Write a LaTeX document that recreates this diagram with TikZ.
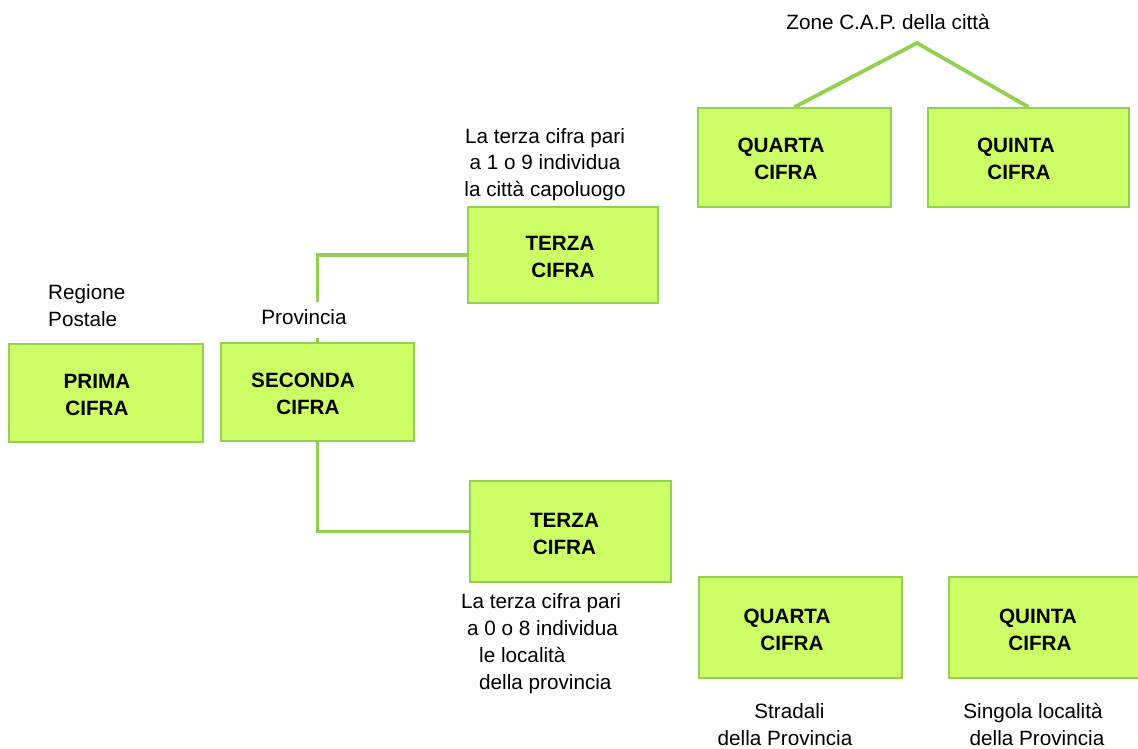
\documentclass[tikz,border=0pt]{standalone}
\usepackage{fontspec}
\setmainfont{Liberation Sans}
\definecolor{boxfill}{HTML}{CCFF66}
\definecolor{boxline}{HTML}{92D050}
\pgfdeclarelayer{bg}
\pgfsetlayers{bg,main}
\newcommand{\clines}[1]{\begin{tabular}[t]{@{}c@{}}#1\end{tabular}}
\newcommand{\llines}[1]{\begin{tabular}[t]{@{}l@{}}#1\end{tabular}}
\tikzset{
  cifrabox/.style={draw=boxline, line width=1.8pt, fill=boxfill, inner sep=0pt},
  conn/.style={draw=boxline, line width=3.8pt, line join=miter},
  lbl/.style={inner sep=0pt, font=\fontsize{20.7}{27}\selectfont},
  blbl/.style={inner sep=0pt, font=\fontsize{20.7}{27}\selectfont\bfseries},
}
\begin{document}
\begin{tikzpicture}[x=1pt, y=-1pt]
\begin{pgfonlayer}{bg}
\fill[white] (0,0) rectangle (1138,749);
\end{pgfonlayer}
\useasboundingbox (0,0) rectangle (1138,749);

% boxes
\node[cifrabox, minimum width=194pt, minimum height=98pt] (prima)   at (106,393) {};
\node[cifrabox, minimum width=193pt, minimum height=98pt] (seconda) at (317.5,392) {};
\node[cifrabox, minimum width=190pt, minimum height=96pt] (terzaA)  at (563,255) {};
\node[cifrabox, minimum width=201pt, minimum height=101pt] (terzaB) at (570.5,531.5) {};
\node[cifrabox, minimum width=193pt, minimum height=99pt] (quartaA) at (794.5,157.5) {};
\node[cifrabox, minimum width=201pt, minimum height=99pt] (quintaA) at (1028.5,157.5) {};
\node[cifrabox, minimum width=203pt, minimum height=101pt] (quartaB) at (800.5,627.5) {};
\node[cifrabox, minimum width=191pt, minimum height=101pt] (quintaB) at (1044.5,627.5) {};

% box texts
\node[blbl, anchor=base] (primaT)   at (97,388)   {\clines{PRIMA\\CIFRA}};
\node[blbl, anchor=base] (secondaT) at (303,387)  {\clines{SECONDA\\\hspace{10pt}CIFRA}};
\node[blbl, anchor=base] (terzaAT)  at (560,250)  {\clines{TERZA\\\hspace{6pt}CIFRA}};
\node[blbl, anchor=base] (terzaBT)  at (564.5,527){\clines{TERZA\\CIFRA}};
\node[blbl, anchor=base] (quartaAT) at (781,153)  {\clines{QUARTA\\\hspace{10pt}CIFRA}};
\node[blbl, anchor=base] (quintaAT) at (1016,153) {\clines{QUINTA\\\hspace{6pt}CIFRA}};
\node[blbl, anchor=base] (quartaBT) at (787,623)  {\clines{QUARTA\\\hspace{10pt}CIFRA}};
\node[blbl, anchor=base] (quintaBT) at (1038,623) {\clines{QUINTA\\\hspace{4pt}CIFRA}};

% connectors
\coordinate (apex) at (917,43);
\begin{pgfonlayer}{bg}
\draw[conn] (seconda.north) |- (terzaA.west);
\draw[conn] (seconda.south) |- (terzaB.west);
\draw[conn] (quartaA.north) -- (apex) -- (quintaA.north);
\end{pgfonlayer}

% labels
\node[lbl, anchor=base] (zone) at (888,30) {Zone C.A.P. della città};
\node[lbl, anchor=base] (noteA) at (545,143) {\clines{La terza cifra pari\\a 1 o 9 individua\\la città capoluogo}};
\node[lbl, anchor=base west] (regione) at (48,299) {\llines{Regione\\Postale}};
\node[lbl, anchor=base, fill=white, inner xsep=2pt, text height=22pt, text depth=14pt] (provincia) at (304,324) {Provincia};
\node[lbl, anchor=base west] (noteB) at (461,608) {\begin{tabular}[t]{@{}l@{}}La terza cifra pari\\\hspace{6pt}a 0 o 8 individua\\\hspace{18pt}le località\\\hspace{18pt}della provincia\end{tabular}};
\node[lbl, anchor=base] (stradali) at (785,718) {\clines{\hspace{9pt}Stradali\\della Provincia}};
\node[lbl, anchor=base] (singola) at (1033,718) {\clines{Singola località\\\hspace{8pt}della Provincia}};
\end{tikzpicture}
\end{document}
